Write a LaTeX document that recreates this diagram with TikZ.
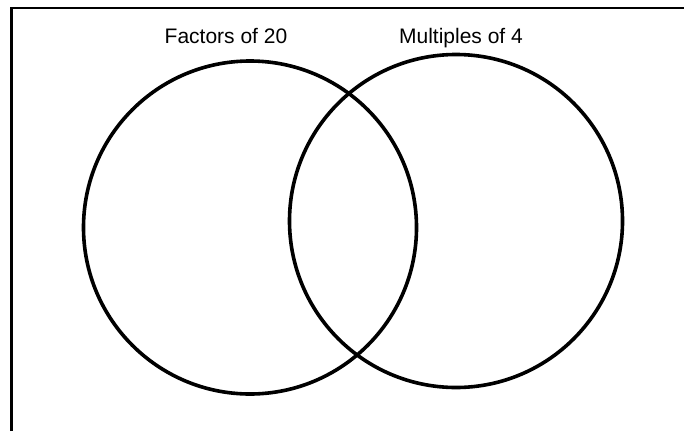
\documentclass[tikz,border=0pt]{standalone}
\usepackage{fontspec}
\setmainfont{Liberation Sans}
\usepackage{tikz}
\usetikzlibrary{positioning}
\tikzset{
  vennset/.style={draw=black, circle, line width=3.6pt, minimum size=333pt,
    inner sep=0pt},
  setlabel/.style={anchor=base, inner sep=0pt, font=\fontsize{21}{24}\selectfont},
  frameline/.style={draw=black, line width=2.4pt}
}

\begin{document}
\begin{tikzpicture}[x=1pt, y=-1pt]
\useasboundingbox (0,0) rectangle (684,431);
% sheet edge
\draw[frameline] (11.5,431) -- (11.5,8) -- (684,8);

\node[vennset] (factors) at (250,227.5) {};
\node[vennset] (multiples) at (456,221) {};

\node[setlabel] (factorslabel) at (226,43) {Factors of 20};
\node[setlabel] (multipleslabel) at (461,43) {Multiples of 4};
\end{tikzpicture}
\end{document}
